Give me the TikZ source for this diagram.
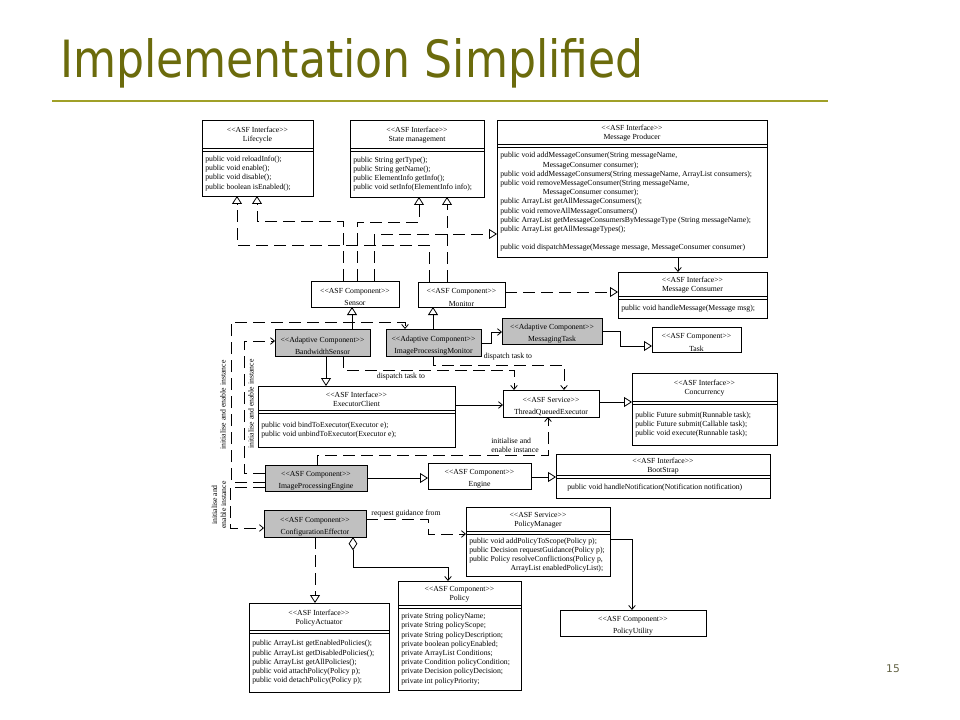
\documentclass[tikz,border=0pt]{standalone}
\usepackage{fontspec}
\usepackage{graphicx}
\usetikzlibrary{arrows.meta,fit}
\newfontfamily\umlserif{Liberation Serif}
\newfontfamily\titlesans{DejaVu Sans}
\newcommand\umlfont{\umlserif\fontsize{5.8}{6.9}\selectfont}
\definecolor{adaptgray}{RGB}{192,192,192}
\definecolor{titleolive}{RGB}{107,107,12}
\definecolor{ruleolive}{RGB}{160,160,40}
\definecolor{pagegray}{RGB}{100,100,70}
\tikzset{
  box/.style={draw, line width=0.7pt, inner sep=0pt, outer sep=0pt, fill=white},
  gbox/.style={box, fill=adaptgray},
  txt/.style={font=\umlfont, align=center, inner sep=0pt},
  mth/.style={font=\umlfont, align=left, inner sep=0pt, anchor=west},
  lbl/.style={font=\umlfont, inner sep=0pt},
  conn/.style={line width=0.6pt},
  dconn/.style={conn, dash pattern=on 9pt off 4.5pt},
  tri/.style={-{Triangle[open,length=6pt,width=7.5pt]}},
  stick/.style={-{Straight Barb[length=3pt,width=5pt]}},
}
% name, x1, y1, x2, y2, ysep, header, members
\newcommand\umlclass[8]{%
  \node[box, fit={(#2,#3)(#4,#5)}] (#1) {};
  \draw[line width=0.6pt] (#2,#6) -- (#4,#6) (#2,#6+3) -- (#4,#6+3);
  \node[txt, yshift=-1pt] at ({(#2+#4)/2},{(#3+#6)/2}) {#7};
  \node[mth] at ({#2+3},{(#6+3+#5)/2}) {#8};
}
% name, x1, y1, x2, y2, style, line 1, line 2
\newcommand\umlsimple[8]{%
  \node[#6, fit={(#2,#3)(#4,#5)}] (#1) {};
  \node[txt, yshift=-2.2pt] at (#1.center) {#7\\[2.2pt]#8};
}
\begin{document}
\begin{tikzpicture}[x=0.75pt,y=-0.75pt]
\fill[white] (0,0) rectangle (960,720);
\useasboundingbox (0,0) rectangle (960,720);

% title
\node[anchor=base west, inner sep=0pt, text=titleolive] (title) at (60,78)
  {\scalebox{0.86}[1]{\titlesans\fontsize{38.5}{40}\selectfont Implementation Simplified}};
\draw[ruleolive, line width=1.5pt] (52,101) -- (828,101);
\node[inner sep=0pt, text=pagegray, font=\titlesans\fontsize{8}{9}\selectfont] (pagenum) at (893,669) {15};

% classes
\umlclass{Lifecycle}{202}{120}{313}{196}{148}{<<ASF Interface>>\\Lifecycle}
  {public void reloadInfo();\\public void enable();\\public void disable();\\public boolean isEnabled();}
\umlclass{StateMgmt}{350}{120}{484}{197}{148}{<<ASF Interface>>\\State management}
  {public String getType();\\public String getName();\\public ElementInfo getInfo();\\public void setInfo(ElementInfo info);}
\umlclass{MsgProducer}{497}{120}{767}{257}{144}{<<ASF Interface>>\\Message Producer}
  {public void addMessageConsumer(String messageName,\\
   \hspace*{32pt}MessageConsumer consumer);\\
   public void addMessageConsumers(String messageName, ArrayList consumers);\\
   public void removeMessageConsumer(String messageName,\\
   \hspace*{32pt}MessageConsumer consumer);\\
   public ArrayList getAllMessageConsumers();\\
   public void removeAllMessageConsumers()\\
   public ArrayList getMessageConsumersByMessageType (String messageName);\\
   public ArrayList getAllMessageTypes();\\[6.9pt]
   public void dispatchMessage(Message message, MessageConsumer consumer)}
\umlsimple{Sensor}{311}{281}{399}{307}{box}{<<ASF Component>>}{Sensor}
\umlsimple{Monitor}{418}{282}{505}{307}{box}{<<ASF Component>>}{Monitor}
\umlclass{MsgConsumer}{618}{272}{767}{318}{296}{<<ASF Interface>>\\Message Consumer}
  {public void handleMessage(Message msg);}
\umlsimple{BWS}{275}{329}{370}{356}{gbox}{<<Adaptive Component>>}{BandwidthSensor}
\umlsimple{IPM}{386}{329}{481}{356}{gbox}{<<Adaptive Component>>}{ImageProcessingMonitor}
\umlsimple{MsgTask}{502}{318}{602}{344}{gbox}{<<Adaptive Component>>}{MessagingTask}
\umlsimple{Task}{652}{327}{741}{352}{box}{<<ASF Component>>}{Task}
\umlclass{ExecClient}{258}{386}{455}{447}{410}{<<ASF Interface>>\\ExecutorClient}
  {public void bindToExecutor(Executor e);\\public void unbindToExecutor(Executor e);}
\umlsimple{TQE}{503}{390}{599}{417}{box}{<<ASF Service>>}{ThreadQueuedExecutor}
\umlclass{Concurrency}{632}{373}{777}{445}{401}{<<ASF Interface>>\\Concurrency}
  {public Future submit(Runnable task);\\public Future submit(Callable task);\\public void execute(Runnable task);}
\umlsimple{IPE}{265}{465}{367}{491}{gbox}{<<ASF Component>>}{ImageProcessingEngine}
\umlsimple{Engine}{428}{463}{531}{489}{box}{<<ASF Component>>}{Engine}
\umlclass{BootStrap}{556}{454}{770}{498}{475}{<<ASF Interface>>\\BootStrap}
  {\hspace*{6pt}public void handleNotification(Notification notification)}
\umlsimple{CE}{264}{510}{366}{537}{gbox}{<<ASF Component>>}{ConfigurationEffector}
\umlclass{PolicyMgr}{466}{507}{610}{576}{531}{<<ASF Service>>\\PolicyManager}
  {public void addPolicyToScope(Policy p);\\public Decision requestGuidance(Policy p);\\public Policy resolveConflictions(Policy p,\\\hspace*{31pt}ArrayList enabledPolicyList);}
\umlsimple{PolicyUtil}{560}{610}{706}{636}{box}{<<ASF Component>>}{PolicyUtility}
\umlclass{Policy}{398}{581}{521}{690}{605}{<<ASF Component>>\\Policy}
  {private String policyName;\\private String policyScope;\\private String policyDescription;\\private boolean policyEnabled;\\private ArrayList Conditions;\\private Condition policyCondition;\\private Decision policyDecision;\\private int policyPriority;}
\umlclass{PolicyAct}{249}{603}{389}{692}{630}{<<ASF Interface>>\\PolicyActuator}
  {public ArrayList getEnabledPolicies();\\public ArrayList getDisabledPolicies();\\public ArrayList getAllPolicies();\\public void attachPolicy(Policy p);\\public void detachPolicy(Policy p);}

% top realizations
\draw[dconn,tri] (429,0 |- Monitor.north) -- (429,245) -- (237,245) -- (237,0 |- Lifecycle.south);
\draw[dconn,tri] (343,0 |- Sensor.north) -- (343,221) -- (257,221) -- (257,0 |- Lifecycle.south);
\draw[dconn,tri] (357,0 |- Sensor.north) -- (357,222) -- (419,222) -- (419,0 |- StateMgmt.south);
\draw[dconn,tri] (447,0 |- Monitor.north) -- (447,0 |- StateMgmt.south);
\draw[dconn,tri] (374,0 |- Sensor.north) -- (374,234) -- (MsgProducer.west |- 0,234);
\draw[dconn,tri] (Monitor.east |- 0,292) -- (MsgConsumer.west |- 0,292);
\draw[conn,stick] (678,0 |- MsgProducer.south) -- (678,0 |- MsgConsumer.north);

% adaptive components
\draw[conn,tri] (352,0 |- BWS.north) -- (352,0 |- Sensor.south);
\draw[conn,tri] (433,0 |- IPM.north) -- (433,0 |- Monitor.south);
\draw[conn,stick] (IPM.east |- 0,343) -- (491,343) -- (491,332) -- (MsgTask.west |- 0,332);
\draw[conn,tri] (MsgTask.east |- 0,331) -- (620,331) -- (620,346) -- (Task.west |- 0,346);
\draw[conn,tri] (326,0 |- BWS.south) -- (326,0 |- ExecClient.north);
\draw[dconn,stick] (343,0 |- BWS.south) -- (343,370) -- (514,370) -- (514,0 |- TQE.north);
\draw[dconn,stick] (433,0 |- IPM.south) -- (433,365) -- (564,365) -- (564,0 |- TQE.north);
\node[lbl] (lblDispA) at (401,377) {dispatch task to};
\node[lbl] (lblDispB) at (508,357) {dispatch task to};

% executor
\draw[conn,stick] (ExecClient.east |- 0,405) -- (TQE.west |- 0,405);
\draw[conn,tri] (TQE.east |- 0,402) -- (Concurrency.west |- 0,402);
\draw[dconn,stick] (317,0 |- IPE.north) -- (317,455) -- (548,455) -- (548,0 |- TQE.south);
\node[lbl, align=left, anchor=west] (lblInitTQE) at (491,445) {initialise and\\enable instance};

% engine
\draw[conn,tri] (IPE.east |- 0,478) -- (Engine.west |- 0,478);
\draw[conn,tri] (Engine.east |- 0,477) -- (BootStrap.west |- 0,477);

% initialise left
\draw[dconn,stick] (IPE.west |- 0,473) -- (244,473) -- (244,341) -- (BWS.west |- 0,341);
\draw[dconn,stick] (IPE.west |- 0,482) -- (231,482) -- (231,322) -- (405,322) -- (405,0 |- IPM.north);
\draw[dconn,stick] (IPE.west |- 0,487) -- (230,487) -- (230,528) -- (CE.west |- 0,528);
\node[lbl, rotate=90] (lblInitIPM) at (223,405) {initialise and enable instance};
\node[lbl, rotate=90] (lblInitBWS) at (251,404) {initialise and enable instance};
\node[lbl, rotate=90, align=center] (lblInitCE) at (219,505) {initialise and\\enable instance};

% policy
\draw[dconn,stick] (CE.east |- 0,519) -- (428,519) -- (428,534) -- (PolicyMgr.west |- 0,534);
\node[lbl] (lblReq) at (406,514) {request guidance from};
\draw[conn,stick] (PolicyMgr.east |- 0,539) -- (632,539) -- (632,0 |- PolicyUtil.north);
\draw[conn,{Diamond[open,length=10pt,width=6.5pt]}-{Straight Barb[length=3pt,width=5pt]}]
  (353,0 |- CE.south) -- (353,567) -- (448,567) -- (448,0 |- Policy.north);
\draw[dconn,tri] (315,0 |- CE.south) -- (315,0 |- PolicyAct.north);
\end{tikzpicture}
\end{document}
